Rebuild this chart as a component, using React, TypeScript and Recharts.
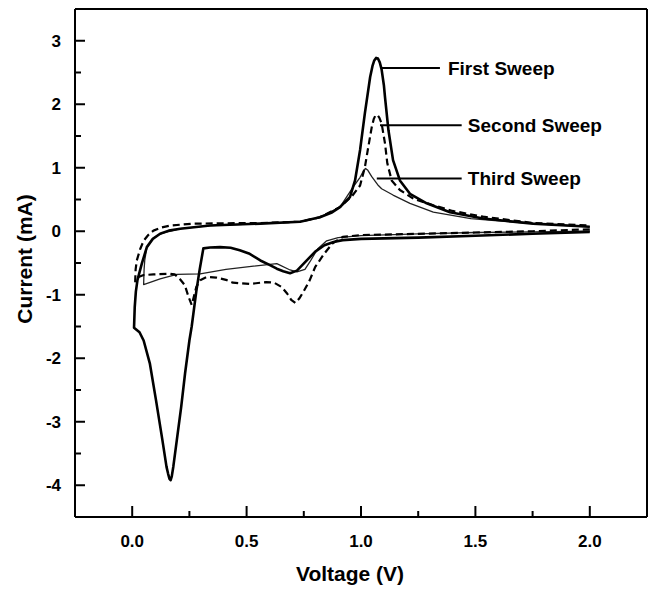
import React from 'react'
import { LineChart, Line, XAxis, YAxis, ReferenceLine, ReferenceDot } from 'recharts'

// voltage (V), current (mA) pairs, in scan order
const firstSweep: [number, number][] = [
  [2.0, -0.01], [1.75, -0.04], [1.5, -0.07], [1.25, -0.1], [1.0, -0.12], [0.92, -0.14],
  [0.88, -0.17], [0.84, -0.22], [0.8, -0.32], [0.763, -0.46], [0.72, -0.62], [0.69, -0.66],
  [0.66, -0.63], [0.632, -0.59], [0.6, -0.53], [0.56, -0.46], [0.51, -0.35], [0.47, -0.3],
  [0.43, -0.26], [0.384, -0.25], [0.34, -0.255], [0.311, -0.27], [0.295, -0.6], [0.28, -0.95],
  [0.26, -1.5], [0.25, -1.72], [0.231, -2.24], [0.214, -2.77], [0.195, -3.29], [0.18, -3.7],
  [0.173, -3.86], [0.168, -3.92], [0.163, -3.9], [0.157, -3.82], [0.15, -3.71], [0.132, -3.29],
  [0.104, -2.66], [0.077, -2.08], [0.05, -1.72], [0.032, -1.59], [0.008, -1.52], [0.011, -1.2],
  [0.016, -0.95], [0.023, -0.77], [0.042, -0.51], [0.064, -0.25], [0.09, -0.12], [0.122, -0.04],
  [0.16, 0.01], [0.21, 0.04], [0.34, 0.09], [0.56, 0.12], [0.734, 0.15], [0.82, 0.22],
  [0.87, 0.29], [0.908, 0.38], [0.952, 0.54], [0.974, 0.8], [0.996, 1.28], [1.017, 1.86],
  [1.04, 2.43], [1.05, 2.6], [1.058, 2.69], [1.066, 2.73], [1.074, 2.72], [1.082, 2.66],
  [1.09, 2.55], [1.1, 2.3], [1.105, 2.11], [1.12, 1.59], [1.14, 1.12], [1.17, 0.8],
  [1.214, 0.59], [1.287, 0.44], [1.389, 0.3], [1.534, 0.2], [1.752, 0.12], [2.0, 0.07],
]

const secondSweep: [number, number][] = [
  [2.0, 0.03], [1.75, 0.0], [1.5, -0.02], [1.25, -0.04], [1.0, -0.06], [0.92, -0.09],
  [0.876, -0.19], [0.84, -0.35], [0.8, -0.56], [0.776, -0.77], [0.749, -0.95], [0.73, -1.06],
  [0.713, -1.13], [0.695, -1.08], [0.677, -0.98], [0.654, -0.88], [0.62, -0.81], [0.585, -0.8],
  [0.515, -0.83], [0.44, -0.81], [0.414, -0.77], [0.368, -0.73], [0.326, -0.72], [0.297, -0.77],
  [0.28, -0.88], [0.268, -1.05], [0.26, -1.16], [0.246, -1.03], [0.23, -0.85], [0.21, -0.76],
  [0.186, -0.68], [0.166, -0.67], [0.093, -0.68], [0.05, -0.69], [0.028, -0.72], [0.013, -0.79],
  [0.015, -0.6], [0.02, -0.46], [0.035, -0.28], [0.05, -0.15], [0.07, -0.06], [0.093, 0.01],
  [0.13, 0.06], [0.166, 0.09], [0.268, 0.12], [0.4, 0.125], [0.56, 0.13], [0.734, 0.15],
  [0.82, 0.22], [0.908, 0.38], [0.96, 0.55], [0.996, 0.72], [1.017, 1.01], [1.032, 1.33],
  [1.047, 1.64], [1.056, 1.77], [1.064, 1.83], [1.072, 1.83], [1.08, 1.79], [1.09, 1.7],
  [1.105, 1.38], [1.115, 1.07], [1.134, 0.8], [1.17, 0.65], [1.23, 0.51], [1.316, 0.41],
  [1.4, 0.32], [1.534, 0.23], [1.752, 0.13], [2.0, 0.09],
]

const thirdSweep: [number, number][] = [
  [2.0, 0.0], [1.75, -0.01], [1.5, -0.02], [1.25, -0.04], [1.0, -0.07], [0.9, -0.1],
  [0.85, -0.15], [0.81, -0.28], [0.777, -0.48], [0.755, -0.6], [0.72, -0.64], [0.69, -0.61],
  [0.632, -0.51], [0.53, -0.55], [0.41, -0.6], [0.297, -0.67], [0.195, -0.68], [0.122, -0.75],
  [0.05, -0.84], [0.052, -0.6], [0.055, -0.45], [0.064, -0.26], [0.09, -0.12], [0.122, -0.04],
  [0.21, 0.04], [0.34, 0.09], [0.56, 0.12], [0.734, 0.15], [0.82, 0.22], [0.908, 0.38],
  [0.966, 0.7], [0.996, 0.85], [1.012, 0.96], [1.02, 0.99], [1.03, 0.96], [1.047, 0.86],
  [1.076, 0.72], [1.09, 0.67], [1.14, 0.57], [1.214, 0.44], [1.316, 0.3], [1.48, 0.2],
  [1.75, 0.12], [2.0, 0.07],
]

const xTicks = [0, 0.25, 0.5, 0.75, 1, 1.25, 1.5, 1.75, 2]
const yTicks = [-4, -3.5, -3, -2.5, -2, -1.5, -1, -0.5, 0, 0.5, 1, 1.5, 2, 2.5, 3]

// callouts: leader line from (x1,y) to (x2,y), text starts at tx
const callouts = [
  { text: 'First Sweep', x1: 1.09, x2: 1.345, y: 2.57, tx: 1.38 },
  { text: 'Second Sweep', x1: 1.083, x2: 1.44, y: 1.67, tx: 1.467 },
  { text: 'Third Sweep', x1: 1.069, x2: 1.44, y: 0.83, tx: 1.467 },
]

const toPoints = (pairs: [number, number][]) => pairs.map(([v, i]) => ({ v, i }))

const FONT = "'Liberation Sans', Arial, sans-serif"

const XTick = ({ x, y, payload }: any) => {
  const val = payload.value
  const major = Math.abs(val * 2 - Math.round(val * 2)) < 1e-6
  return (
    <g>
      <line x1={x} x2={x} y1={y} y2={y - (major ? 11 : 6)} stroke="#000" strokeWidth={2} />
      {major && (
        <text x={x} y={y + 30} textAnchor="middle" fontFamily={FONT} fontWeight="bold" fontSize={17} fill="#000">
          {val.toFixed(1)}
        </text>
      )}
    </g>
  )
}

const YTick = ({ x, y, payload }: any) => {
  const val = payload.value
  const major = Number.isInteger(val)
  return (
    <g>
      <line x1={x} x2={x + (major ? 10 : 6)} y1={y} y2={y} stroke="#000" strokeWidth={2} />
      {major && (
        <text x={x - 14} y={y} dy="0.36em" textAnchor="end" fontFamily={FONT} fontWeight="bold" fontSize={17} fill="#000">
          {val}
        </text>
      )}
    </g>
  )
}

const XTitle = ({ viewBox }: any) => (
  <text x={viewBox.x + viewBox.width / 2 - 11} y={581} textAnchor="middle" fontFamily={FONT} fontWeight="bold" fontSize={21} fill="#000">
    Voltage (V)
  </text>
)

const YTitle = () => (
  <text x={24} y={259} dy="0.36em" textAnchor="middle" transform="rotate(-90, 24, 259)" fontFamily={FONT} fontWeight="bold" fontSize={21} fill="#000">
    Current (mA)
  </text>
)

const CalloutText = ({ viewBox, value }: any) => (
  <text x={viewBox.x} y={viewBox.y} dy="0.36em" fontFamily={FONT} fontWeight="bold" fontSize={19} fill="#000">
    {value}
  </text>
)

export default function App() {
  return (
    <div style={{ position: 'absolute', left: 0, top: 0, background: '#fff' }}>
      <LineChart width={650} height={591} margin={{ top: 9, right: 3, left: 0, bottom: 0 }}>
        <XAxis
          type="number"
          dataKey="v"
          domain={[-0.25, 2.25]}
          allowDataOverflow
          ticks={xTicks}
          interval={0}
          tickSize={0}
          tickMargin={0}
          tickLine={false}
          tick={<XTick />}
          axisLine={{ stroke: '#000', strokeWidth: 2 }}
          height={74}
          label={<XTitle />}
        />
        <YAxis
          type="number"
          domain={[-4.5, 3.5]}
          allowDataOverflow
          ticks={yTicks}
          interval={0}
          tickSize={0}
          tickMargin={0}
          tickLine={false}
          tick={<YTick />}
          axisLine={{ stroke: '#000', strokeWidth: 2 }}
          width={75}
          label={<YTitle />}
        />
        <ReferenceLine y={3.5} stroke="#000" strokeWidth={2} />
        <ReferenceLine x={2.25} stroke="#000" strokeWidth={2} />
        <Line data={toPoints(thirdSweep)} dataKey="i" type="linear" stroke="#222" strokeWidth={1.3}
          dot={false} activeDot={false} isAnimationActive={false} strokeLinejoin="round" />
        <Line data={toPoints(secondSweep)} dataKey="i" type="linear" stroke="#000" strokeWidth={2.2}
          strokeDasharray="7 4" dot={false} activeDot={false} isAnimationActive={false} strokeLinejoin="round" />
        <Line data={toPoints(firstSweep)} dataKey="i" type="linear" stroke="#000" strokeWidth={2.6}
          dot={false} activeDot={false} isAnimationActive={false} strokeLinejoin="round" />
        {callouts.map((c) => (
          <ReferenceLine
            key={`line-${c.text}`}
            segment={[{ x: c.x1, y: c.y }, { x: c.x2, y: c.y }]}
            stroke="#000"
            strokeWidth={2}
          />
        ))}
        {callouts.map((c) => (
          <ReferenceDot
            key={`text-${c.text}`}
            x={c.tx}
            y={c.y}
            r={0}
            fill="none"
            stroke="none"
            label={<CalloutText value={c.text} />}
          />
        ))}
      </LineChart>
    </div>
  )
}
